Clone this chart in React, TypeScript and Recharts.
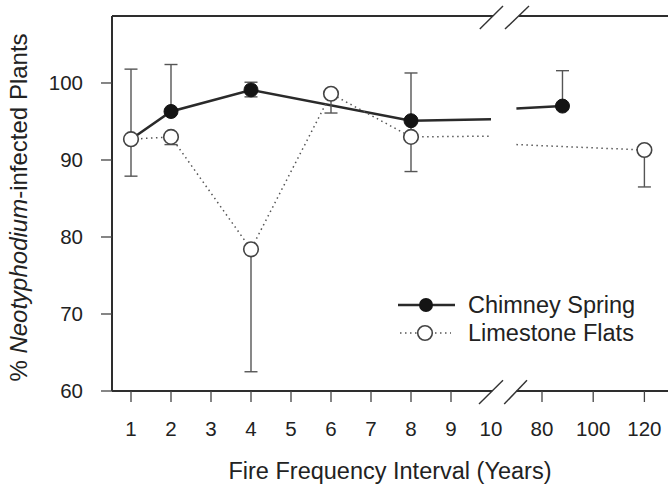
import React from 'react';
import { LineChart, Line, XAxis, YAxis, ErrorBar, ReferenceLine, Legend, Label } from 'recharts';

// axis ticks
const xTickYears = [1, 2, 3, 4, 5, 6, 7, 8, 9, 10, 80, 100, 120];
const yTicks = [60, 70, 80, 90, 100];

// Chimney Spring (filled circles)
const chimneyYears = [1, 2, 4, 8, 88];
const chimneyPct = [92.7, 96.3, 99.1, 95.1, 97.0];
const chimneyErrLow = [0, 0, 0.9, 6.6, 0];
const chimneyErrHigh = [0, 6.1, 1.0, 6.2, 4.6];

// Limestone Flats (open circles)
const limestoneYears = [1, 2, 4, 6, 8, 120];
const limestonePct = [92.7, 93.0, 78.4, 98.6, 93.0, 91.3];
const limestoneErrLow = [4.8, 1.0, 15.9, 2.5, 0, 4.8];
const limestoneErrHigh = [9.1, 0, 0, 0, 0, 0];

// where each line is cut by the axis break (end on the left, restart on the right)
const chimneyBreakYears = [10, 70];
const chimneyBreakPct = [95.3, 96.7];
const limestoneBreakYears = [10, 70];
const limestoneBreakPct = [93.1, 92.0];

const FONT = '"Liberation Sans", Arial, Helvetica, sans-serif';
const INK = '#222';

// broken axis: 1..10 evenly spaced, then 80..120 squeezed after the break
const toPos = (year: number) => (year <= 10 ? year : 11.275 + (year - 80) * 0.064);
const xTicks = xTickYears.map(toPos);
const X_MIN = 0.525;
const X_MAX = 14.425;
const Y_MIN = 60;
const Y_MAX = 108.7;

type Pt = { year: number; pos: number; pct: number; err: [number, number] | null; marker: boolean };

const buildSeries = (
  years: number[],
  pct: number[],
  lo: number[],
  hi: number[],
  breakYears: number[],
  breakPct: number[]
) => {
  const pts: Pt[] = years.map((y, i) => ({
    year: y,
    pos: toPos(y),
    pct: pct[i],
    err: lo[i] || hi[i] ? [lo[i], hi[i]] : null,
    marker: true,
  }));
  breakYears.forEach((y, i) =>
    pts.push({ year: y, pos: toPos(y), pct: breakPct[i], err: null, marker: false })
  );
  pts.sort((a, b) => a.pos - b.pos);
  return { left: pts.filter((p) => p.year <= 10), right: pts.filter((p) => p.year > 10) };
};

const chimney = buildSeries(chimneyYears, chimneyPct, chimneyErrLow, chimneyErrHigh, chimneyBreakYears, chimneyBreakPct);
const limestone = buildSeries(
  limestoneYears,
  limestonePct,
  limestoneErrLow,
  limestoneErrHigh,
  limestoneBreakYears,
  limestoneBreakPct
);

const filledDot = (props: any) => {
  const { cx, cy, payload, index } = props;
  if (!payload?.marker) return <g key={`fd-${index}`} />;
  return <circle key={`fd-${index}`} cx={cx} cy={cy} r={7} fill="#141414" stroke="#141414" strokeWidth={1} />;
};

const openDot = (props: any) => {
  const { cx, cy, payload, index } = props;
  if (!payload?.marker) return <g key={`od-${index}`} />;
  return <circle key={`od-${index}`} cx={cx} cy={cy} r={7.3} fill="#fff" stroke="#444" strokeWidth={1.6} />;
};

const renderXTick = (props: any) => {
  const { x, y, payload } = props;
  const label = xTickYears[xTicks.indexOf(payload.value)];
  const axisY = y - 11;
  return (
    <g>
      {label !== 10 && <line x1={x} y1={axisY} x2={x} y2={axisY + 11} stroke="#444" strokeWidth={1.3} />}
      <text x={x} y={axisY + 45} textAnchor="middle" fontSize={20.5} fontFamily={FONT} fill={INK}>
        {label}
      </text>
    </g>
  );
};

const renderLegend = () => (
  <svg width={270} height={60}>
    <line x1={3} y1={15} x2={60} y2={15} stroke="#2a2a2a" strokeWidth={2.5} />
    <circle cx={31} cy={15} r={7} fill="#141414" />
    <text x={73} y={15} dy="0.36em" fontSize={23.5} fontFamily={FONT} fill={INK}>
      Chimney Spring
    </text>
    <line x1={5} y1={43} x2={56} y2={43} stroke="#555" strokeWidth={1.5} strokeDasharray="1.5 3.5" />
    <circle cx={30} cy={43} r={7.3} fill="#fff" stroke="#444" strokeWidth={1.6} />
    <text x={73} y={43} dy="0.36em" fontSize={23.5} fontFamily={FONT} fill={INK}>
      Limestone Flats
    </text>
  </svg>
);

const axisStroke = { stroke: '#2e2e2e', strokeWidth: 2 };

export default function App() {
  const chimneyLine = { dataKey: 'pct', stroke: '#2a2a2a', strokeWidth: 2.5, dot: filledDot, activeDot: false };
  const limestoneLine = {
    dataKey: 'pct',
    stroke: '#555',
    strokeWidth: 1.5,
    strokeDasharray: '1.5 3.5',
    dot: openDot,
    activeDot: false,
  };
  const errProps = { dataKey: 'err', direction: 'y' as const, width: 6.5, stroke: '#555', strokeWidth: 1.4 };

  return (
    <div style={{ position: 'absolute', left: 0, top: 0, background: '#fff' }}>
      <LineChart width={668} height={490} margin={{ top: 16, right: 0, left: 0, bottom: 39 }}>
        <XAxis
          type="number"
          dataKey="pos"
          domain={[X_MIN, X_MAX]}
          allowDataOverflow
          ticks={xTicks}
          interval={0}
          axisLine={false}
          tickLine={false}
          tickSize={11}
          tickMargin={0}
          tick={renderXTick}
          height={60}
        >
          <Label
            content={(p: any) => (
              <text
                x={p.viewBox.x + p.viewBox.width / 2}
                y={p.viewBox.y + 88}
                textAnchor="middle"
                fontSize={23.5}
                fontFamily={FONT}
                fill={INK}
              >
                Fire Frequency Interval (Years)
              </text>
            )}
          />
        </XAxis>
        <YAxis
          type="number"
          domain={[Y_MIN, Y_MAX]}
          allowDataOverflow
          ticks={yTicks}
          interval={0}
          width={112}
          axisLine={axisStroke}
          tickLine={{ stroke: '#444', strokeWidth: 1.3 }}
          tickSize={11}
          tickMargin={18}
          tick={{ fontSize: 20.5, fontFamily: FONT, fill: INK }}
        >
          <Label
            content={(p: any) => {
              const cx = 18;
              const cy = p.viewBox.y + p.viewBox.height / 2 + 4;
              return (
                <text
                  x={cx}
                  y={cy}
                  transform={`rotate(-90, ${cx}, ${cy})`}
                  textAnchor="middle"
                  dy="0.36em"
                  fontSize={24}
                  fontFamily={FONT}
                  fill={INK}
                >
                  % <tspan fontStyle="italic">Neotyphodium</tspan>-infected Plants
                </text>
              );
            }}
          />
        </YAxis>

        {/* frame: bottom and top lines, interrupted at the break */}
        <ReferenceLine segment={[{ x: X_MIN, y: Y_MIN }, { x: 10.03, y: Y_MIN }]} ifOverflow="visible" {...axisStroke} />
        <ReferenceLine segment={[{ x: 10.64, y: Y_MIN }, { x: X_MAX, y: Y_MIN }]} ifOverflow="visible" {...axisStroke} />
        <ReferenceLine segment={[{ x: X_MIN, y: Y_MAX }, { x: 10.05, y: Y_MAX }]} ifOverflow="visible" {...axisStroke} />
        <ReferenceLine segment={[{ x: 10.7, y: Y_MAX }, { x: X_MAX, y: Y_MAX }]} ifOverflow="visible" {...axisStroke} />
        {/* break marks */}
        <ReferenceLine segment={[{ x: 9.7, y: 58.3 }, { x: 10.3, y: 61.4 }]} ifOverflow="visible" stroke="#333" strokeWidth={1.4} />
        <ReferenceLine segment={[{ x: 10.33, y: 58.3 }, { x: 10.9, y: 61.4 }]} ifOverflow="visible" stroke="#333" strokeWidth={1.4} />
        <ReferenceLine segment={[{ x: 9.72, y: 107.0 }, { x: 10.3, y: 110.0 }]} ifOverflow="visible" stroke="#333" strokeWidth={1.4} />
        <ReferenceLine segment={[{ x: 10.35, y: 107.0 }, { x: 10.95, y: 110.0 }]} ifOverflow="visible" stroke="#333" strokeWidth={1.4} />

        <Line data={chimney.left} {...chimneyLine} isAnimationActive={false}>
          <ErrorBar {...errProps} />
        </Line>
        <Line data={chimney.right} {...chimneyLine} isAnimationActive={false}>
          <ErrorBar {...errProps} />
        </Line>
        <Line data={limestone.left} {...limestoneLine} isAnimationActive={false}>
          <ErrorBar {...errProps} />
        </Line>
        <Line data={limestone.right} {...limestoneLine} isAnimationActive={false}>
          <ErrorBar {...errProps} />
        </Line>

        <Legend
          layout="vertical"
          align="center"
          verticalAlign="middle"
          content={renderLegend}
          wrapperStyle={{ left: 395, top: 290, width: 270, height: 60 }}
        />
      </LineChart>
    </div>
  );
}
